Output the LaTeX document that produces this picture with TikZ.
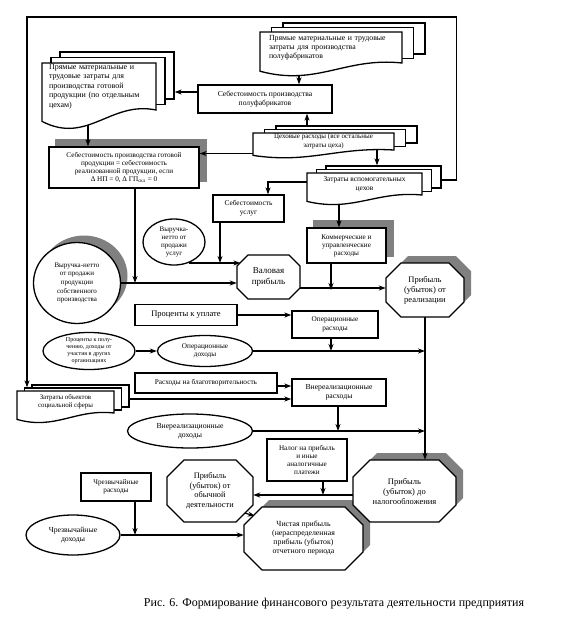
\documentclass[tikz,border=0pt]{standalone}
\usepackage{fontspec}
\setmainfont{Liberation Serif}
\usetikzlibrary{arrows.meta,shapes.geometric}
\pgfdeclarelayer{shadow}
\pgfdeclarelayer{front}
\pgfsetlayers{shadow,main,front}

% octagon outline: cx, cy, w, h, chamfer
\newcommand\octpath[5]{(#1-#3/2+#5,#2-#4/2) -- (#1+#3/2-#5,#2-#4/2) -- (#1+#3/2,#2-#4/2+#5) -- (#1+#3/2,#2+#4/2-#5) -- (#1+#3/2-#5,#2+#4/2) -- (#1-#3/2+#5,#2+#4/2) -- (#1-#3/2,#2+#4/2-#5) -- (#1-#3/2,#2-#4/2+#5) -- cycle}
% [opts]{name}{cx}{cy}{w}{h}{chamfer}{text}
\newcommand\octo[8][]{%
  \filldraw[sheet] \octpath{#3}{#4}{#5}{#6}{#7};
  \node[inner sep=0pt, align=center, minimum width=#5, minimum height=#6, #1] (#2) at (#3,#4) {#8};
}
% stack of documents: [opts]{name}{x1}{y1}{x2}{y2}{dx}{dy}{text}
\newcommand\docstack[9][]{%
  \foreach \k in {2,1}
    \node[sheet, minimum width=#5-#3, minimum height=#6-#4] (#2\k)
      at ({(#3+#5)/2+\k*(#7)},{(#4+#6)/2+\k*(#8)}) {};
  \filldraw[sheet] (#3,#4) -- (#5,#4) -- (#5,#6)
    .. controls ({#5-0.4*(#5-#3)},{#6-0.2*(#6-#4)}) and ({#3+0.4*(#5-#3)},{#6+0.7*(#6-#4)+2}) .. ({#3},{#6+0.2*(#6-#4)+2}) -- cycle;
  \node[inner sep=0pt, align=center, minimum width=#5-#3, minimum height=#6-#4, #1] (#2) at ({(#3+#5)/2},{(#4+#6)/2}) {#9};
}

\begin{document}
\begin{tikzpicture}[x=1pt, y=-1pt,
    sheet/.style={draw, fill=white, line width=1.3pt},
    rbox/.style={draw, fill=white, line width=1.3pt, align=center, inner sep=1pt},
    ell/.style={ellipse, draw, fill=white, line width=1.3pt, align=center, inner sep=0pt},
    arr/.style={-{Stealth[length=7pt,width=5pt]}, line width=1.2pt},
    shadowfill/.style={fill=black!50},
    fs/.style args={#1/#2}{font=\fontsize{#1}{#2}\selectfont}]
\useasboundingbox (0,0) rectangle (573,641);

\begin{pgfonlayer}{front}
% document stacks
\docstack[fs=7.8/9, align=left, text width=124]{polufab}{260}{32}{402}{63}{11.5}{-4.5}{Прямые материальные и трудовые\\затраты для производства\\полуфабрикатов}
\docstack[fs=8/9.5, align=left, text width=100]{gotov}{42}{63}{156}{110}{9}{-5.5}{Прямые материальные и\\трудовые затраты для\\производства готовой\\продукции (по отдельным\\цехам)}
\docstack[fs=7/8.5]{ceh}{253}{133}{394}{150}{11.5}{-3.5}{Цеховые расходы (все остальные\\затраты цеха)}
\docstack[fs=7.4/9]{vspom}{307}{173}{422}{195}{9.5}{-3.5}{Затраты вспомогательных\\цехов}
\docstack[fs=6.9/8.5]{socsf}{17}{391}{114}{413}{7.5}{-3}{Затраты объектов\\социальной сферы}

% boxes
\node[rbox, fs=7.6/9, minimum width=134, minimum height=28] (sebpf) at (265,99) {Себестоимость производства\\полуфабрикатов};
\node[rbox, fs=7.2/8, minimum width=150, minimum height=41] (sebgot) at (124,167.5) {Себестоимость производства готовой\\продукции = себестоимость\\реализованной продукции, если\\Δ НП = 0, Δ ГП\textsubscript{скл} = 0};
\node[rbox, fs=7.4/9, minimum width=71, minimum height=27] (sebusl) at (248.5,208.5) {Себестоимость\\услуг};
\node[rbox, fs=7.2/8, minimum width=79, minimum height=35] (komm) at (346.5,245.5) {Коммерческие и\\управленческие\\расходы};
\node[rbox, fs=8.5/10, minimum width=102, minimum height=21] (procupl) at (186,315) {Проценты к уплате};
\node[rbox, fs=7.3/8.5, minimum width=86, minimum height=27] (operras) at (335,324.5) {Операционные\\расходы};
\node[rbox, fs=7.3/8.5, minimum width=142, minimum height=20] (blag) at (206,383) {Расходы на благотворительность};
\node[rbox, fs=7.7/9, minimum width=94, minimum height=27] (vnras) at (339,392.5) {Внереализационные\\расходы};
\node[rbox, fs=7.2/8.3, minimum width=80, minimum height=42] (nalog) at (307,460) {Налог на прибыль\\и иные\\аналогичные\\платежи};
\node[rbox, fs=7.2/8.5, minimum width=70, minimum height=28] (chrras) at (116,487) {Чрезвычайные\\расходы};

% ellipses
\node[ell, fs=7/8, minimum width=62, minimum height=46] (vyrusl) at (174,242) {Выручка-\\нетто от\\продажи\\услуг};
\node[ell, fs=7/8.6, minimum width=87, minimum height=81] (vyrprod) at (77,283) {Выручка-нетто\\от продажи\\продукции\\собственного\\производства};
\node[ell, fs=6/7, minimum width=92, minimum height=36] (procpol) at (89,351) {Проценты к полу-\\чению, доходы от\\участия в других\\организациях};
\node[ell, fs=7.2/8.5, minimum width=95, minimum height=31] (operdoh) at (205,351) {Операционные\\доходы};
\node[ell, fs=7.7/9, minimum width=125, minimum height=34] (vndoh) at (190,431) {Внереализационные\\доходы};
\node[ell, fs=7.7/9, minimum width=94, minimum height=40] (chrdoh) at (73,535) {Чрезвычайные\\доходы};

% octagons
\octo[fs=9/10.5]{valov}{268.5}{277}{63}{44}{11}{Валовая\\прибыль}
\octo[fs=8.5/10]{prreal}{425}{290}{78}{54}{15}{Прибыль\\(убыток) от\\реализации}
\octo[fs=8.5/10]{prnal}{404.5}{491}{103}{62}{17}{Прибыль\\(убыток) до\\налогообложения}
\octo[fs=8.3/9.5]{probych}{210}{491}{86}{62}{17}{Прибыль\\(убыток) от\\обычной\\деятельности}
\octo[fs=7.8/9]{chist}{303.5}{538.5}{119}{63}{18}{Чистая прибыль\\(нераспределенная\\прибыль (убыток)\\отчетного периода}

\node[fs=12/14] (caption) at (334,604) {Рис. 6. Формирование финансового результата деятельности предприятия};
\end{pgfonlayer}

% shadows
\begin{pgfonlayer}{shadow}
\foreach \n in {sebgot,komm}
  \fill[shadowfill] ([shift={(7,-7)}]\n.north west) rectangle ([shift={(7,-7)}]\n.south east);
\fill[shadowfill] ([shift={(7,-7)}]vyrprod.center) ellipse [x radius=43.5, y radius=40.5];
\fill[shadowfill, shift={(7,-7)}] \octpath{425}{290}{78}{54}{15};
\fill[shadowfill, shift={(7,-7)}] \octpath{404.5}{491}{103}{62}{17};
\fill[shadowfill, shift={(7,-7)}] \octpath{303.5}{538.5}{119}{63}{18};
\end{pgfonlayer}

% top part
\draw[arr] ([xshift=-32]polufab.south) -- ([xshift=-32]polufab.south |- sebpf.north);
\draw[arr] ([yshift=7]sebpf.west) -- ([yshift=7]sebpf.west -| gotov2.east);
\draw[arr] ([xshift=-16.5]ceh.north) -- ([xshift=-16.5]ceh.north |- sebpf.south);
\draw[arr] ([xshift=-11]gotov.south) -- ([xshift=-11]gotov.south |- sebgot.north);
\draw[arr] ([yshift=-12]ceh.west) -- ([yshift=-12]ceh.west -| sebgot.east);
\draw[arr] ([xshift=53.5]ceh.south) -- ([xshift=53.5]ceh.south |- vspom2.north);
\draw[arr] ([yshift=2]vspom.west) -| ([xshift=19.5]sebusl.north);
\draw[arr] ([xshift=-25.5]vspom.south) -- ([xshift=-25.5]vspom.south |- komm.north);
\draw[arr] ([yshift=-3]vspom2.east) -- ++(15,0) -- ++(0,-163) -| ([xshift=-46]socsf1.north);

% gross profit
\draw[arr] ([xshift=11]sebgot.south) -- ([xshift=11]sebgot.south |- vyrprod.east);
\draw[arr] (vyrprod.east) -- (vyrprod.east -| valov.west);
\draw[arr] (vyrusl.-55) -- ([xshift=3.6]valov.west |- vyrusl.-55);
\draw[arr] ([xshift=-28.5]sebusl.south) -- ([xshift=-28.5]sebusl.south |- vyrusl.-55);
\draw[arr] ([yshift=-11]valov.east) -- ([yshift=-11]valov.east -| prreal.west);
\draw[arr] ([xshift=-15.5]komm.south) -- ([xshift=-15.5]komm.south |- prreal.west);
\draw[arr] (prreal.south) -- (prnal.north -| prreal.south);

% operating and other items
\draw[arr] (procupl.east) -- (procupl.east -| operras.west);
\draw[arr] (procpol.east) -- (operdoh.west);
\draw[arr] (operdoh.east) -- (operdoh.east -| prreal.south);
\draw[arr] ([xshift=-4]operras.south) -- ([xshift=-4]operras.south |- operdoh.east);
\draw[arr] ([yshift=-3]blag.east) -- ([yshift=-3]blag.east -| vnras.west);
\draw[arr] ([yshift=-3]socsf2.east) -- ([yshift=-3]socsf2.east -| vnras.west);
\draw[arr] ([xshift=-1]vnras.south) -- ([xshift=-1]vnras.south |- vndoh.east);
\draw[arr] (vndoh.east) -- (vndoh.east -| prreal.south);

% net profit
\coordinate (taxline) at ([yshift=-4]prnal.west);
\draw[arr] ([xshift=16]nalog.south) -- ([xshift=16]nalog.south |- taxline);
\draw[arr] (taxline) -- (taxline -| probych.east);
\draw[arr] ([xshift=-8,yshift=9]probych.south east) -- ([xshift=11,yshift=-9]chist.north west);
\draw[arr] ([xshift=19]chrras.south) -- ([xshift=19]chrras.south |- chrdoh.east);
\draw[arr] (chrdoh.east) -- (chrdoh.east -| chist.west);
\end{tikzpicture}
\end{document}
